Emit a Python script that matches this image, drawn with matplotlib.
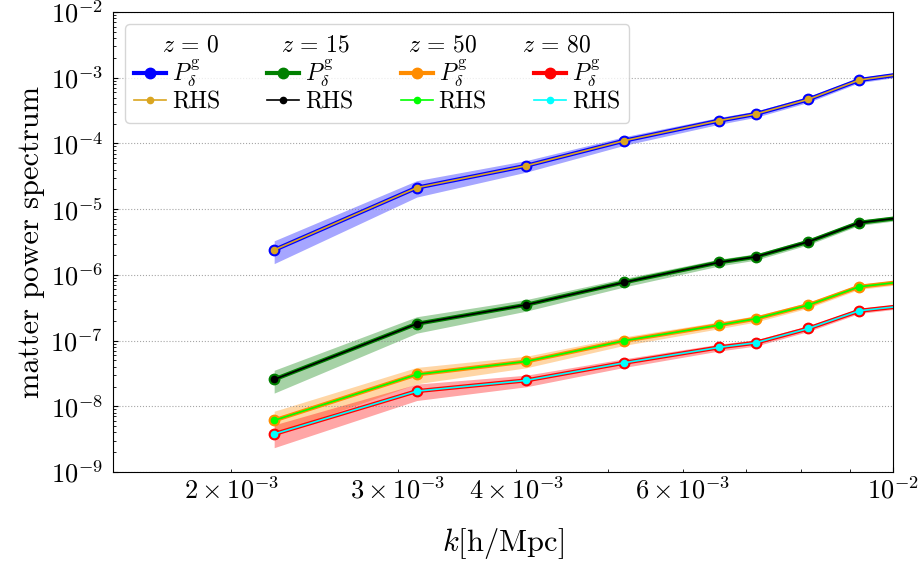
import numpy as np
import matplotlib
matplotlib.use("Agg")
import matplotlib.pyplot as plt

plt.rcParams['font.family'] = 'serif'
plt.rcParams['font.serif'] = ['cmr10']
plt.rcParams['mathtext.fontset'] = 'cm'
plt.rcParams['axes.formatter.use_mathtext'] = True

# wavenumbers [h/Mpc]
k = [2.22e-3, 3.14e-3, 4.10e-3, 5.20e-3, 6.55e-3, 7.16e-3, 8.14e-3, 9.21e-3, 1.05e-2]

# P_delta^g per redshift
p_z0 = [2.39e-6, 2.12e-5, 4.58e-5, 1.10e-4, 2.22e-4, 2.80e-4, 4.69e-4, 9.22e-4, 1.20e-3]
p_z15 = [2.56e-8, 1.80e-7, 3.51e-7, 7.69e-7, 1.55e-6, 1.88e-6, 3.19e-6, 6.21e-6, 7.8e-6]
p_z50 = [6.1e-9, 3.05e-8, 4.82e-8, 9.93e-8, 1.72e-7, 2.15e-7, 3.47e-7, 6.59e-7, 8.2e-7]
p_z80 = [3.78e-9, 1.70e-8, 2.48e-8, 4.59e-8, 7.88e-8, 9.26e-8, 1.53e-7, 2.84e-7, 3.5e-7]

# right hand side estimate (indistinguishable from P at this scale)
rhs_z0 = [2.39e-6, 2.12e-5, 4.58e-5, 1.10e-4, 2.22e-4, 2.80e-4, 4.69e-4, 9.22e-4, 1.20e-3]
rhs_z15 = [2.56e-8, 1.80e-7, 3.51e-7, 7.69e-7, 1.55e-6, 1.88e-6, 3.19e-6, 6.21e-6, 7.8e-6]
rhs_z50 = [6.1e-9, 3.05e-8, 4.82e-8, 9.93e-8, 1.72e-7, 2.15e-7, 3.47e-7, 6.59e-7, 8.2e-7]
rhs_z80 = [3.78e-9, 1.70e-8, 2.48e-8, 4.59e-8, 7.88e-8, 9.26e-8, 1.53e-7, 2.84e-7, 3.5e-7]

# relative 1-sigma error of the band
rel_err = [0.38, 0.28, 0.20, 0.15, 0.12, 0.11, 0.10, 0.09, 0.08]

redshifts = ['0', '15', '50', '80']
p_colors = ['blue', 'green', 'darkorange', 'red']
rhs_colors = ['goldenrod', 'black', 'lime', 'cyan']

fig = plt.figure(figsize=(9.23, 5.64), dpi=100)
ax = fig.add_axes([0.1224, 0.1631, 0.8451, 0.8156])

k = np.array(k)
err = np.array(rel_err)
handles = []
for p, rhs, c, rc in zip([p_z0, p_z15, p_z50, p_z80],
                         [rhs_z0, rhs_z15, rhs_z50, rhs_z80], p_colors, rhs_colors):
    p = np.array(p)
    ax.fill_between(k, p * (1 - err), p * (1 + err), color=c, alpha=0.35, lw=0, zorder=1)
    hp, = ax.plot(k, p, '-o', color=c, lw=3, ms=7.5, zorder=2, label=r'$P_\delta^{\rm g}$')
    hr, = ax.plot(k, rhs, '-o', color=rc, lw=1.2, ms=4.5, zorder=3, label='RHS')
    handles += [hp, hr]

ax.set_xscale('log')
ax.set_yscale('log')
ax.set_xlim(1.5e-3, 1e-2)
ax.set_ylim(1e-9, 1e-2)
ax.grid(True, axis='y', which='major', linestyle=':', color='gray', alpha=0.7)
ax.tick_params(which='both', direction='in', labelsize=19)
ax.tick_params(axis='y', which='both', pad=7)
ax.set_xlabel(r'$k$[h/Mpc]', fontsize=22, labelpad=16)
ax.set_ylabel('matter power spectrum', fontsize=22)

# blank title keeps a row free for the redshift headers
leg = ax.legend(handles=handles, ncol=4, fontsize=17, loc='upper left',
                title=' ', title_fontsize=17,
                handlelength=1.35, handletextpad=0.25, columnspacing=2.0,
                labelspacing=0.1, borderaxespad=0.5)

# headers placed in legend-box fractions
head_x = [0.130, 0.377, 0.629, 0.856]
for z, xf in zip(redshifts, head_x):
    ax.annotate(r'$z\,=\,%s$' % z, xy=(xf, 0.72), xycoords=leg,
                ha='center', va='baseline', fontsize=17, zorder=6)

fig.savefig('out.png', dpi=100)
